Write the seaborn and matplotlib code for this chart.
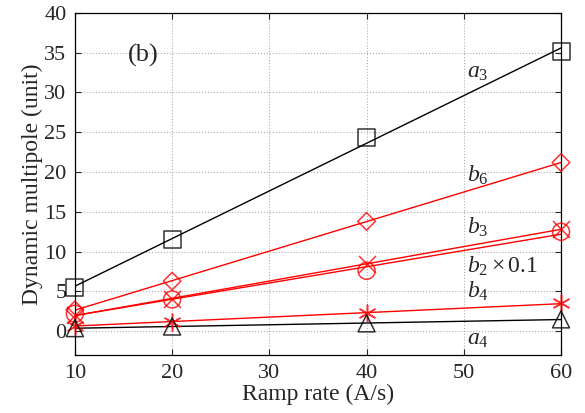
import numpy as np
import pandas as pd
import matplotlib
matplotlib.use("Agg")
import matplotlib.pyplot as plt
import seaborn as sns

# Ramp rates (A/s) and measured dynamic multipoles
ramp_rate = [10, 20, 40, 60]
a3 = [5.5, 11.5, 24.3, 35.2]
b6 = [2.7, 6.3, 13.8, 21.2]
b3 = [2.0, 4.1, 8.5, 12.8]
b2_scaled = [2.2, 4.0, 7.6, 12.5]
b4 = [0.7, 1.2, 2.3, 3.5]
a4 = [0.4, 0.6, 1.0, 1.5]

series = [
    ("a3", a3, "black", "s"),
    ("b6", b6, "red", "D"),
    ("b3", b3, "red", "x"),
    ("b2x0.1", b2_scaled, "red", "o"),
    ("b4", b4, "red", (6, 2, 0)),
    ("a4", a4, "black", "^"),
]

labels = [
    (r"$a_3$", 50.3, 32.5),
    (r"$b_6$", 50.3, 19.6),
    (r"$b_3$", 50.3, 13.0),
    (r"$b_2\times 0.1$", 50.3, 8.1),
    (r"$b_4$", 50.3, 5.0),
    (r"$a_4$", 50.3, -1.0),
]

sns.set_style("ticks")
plt.rcParams["font.family"] = ["Liberation Serif", "DejaVu Serif"]
plt.rcParams["mathtext.fontset"] = "custom"
plt.rcParams["mathtext.rm"] = "Liberation Serif"
plt.rcParams["mathtext.it"] = "Liberation Serif:italic"

fig = plt.figure(figsize=(5.85, 4.13), dpi=100)
ax = fig.add_axes([0.128, 0.140, 0.831, 0.829])

for name, vals, color, marker in series:
    df = pd.DataFrame({"rate": ramp_rate, "value": vals})
    filled = marker in ("x", (6, 2, 0))
    sns.regplot(
        data=df, x="rate", y="value", ax=ax, ci=None, truncate=True,
        marker=marker, color=color,
        scatter_kws=dict(s=150 if marker != "D" else 80,
                         facecolors=color if filled else "none",
                         edgecolors=color, linewidths=1.1, clip_on=False, zorder=3),
        line_kws=dict(linewidth=1.0, color=color),
    )

for text, x, y in labels:
    ax.text(x, y, text, fontsize=17, ha="left", va="center")
ax.text(17, 34.7, "(b)", fontsize=19, ha="center", va="center")

ax.set_xlim(10, 60)
ax.set_ylim(-3, 40)
ax.set_xticks([10, 20, 30, 40, 50, 60])
ax.set_yticks(range(0, 41, 5))
ax.grid(True, linestyle=":", color="#b0b0b0", linewidth=0.8)
ax.tick_params(direction="in", top=True, right=True, labelsize=16, length=4, pad=6)
for sp in ax.spines.values():
    sp.set_linewidth(0.9)
    sp.set_color("black")
ax.set_xlabel("Ramp rate (A/s)", fontsize=17, labelpad=1)
ax.set_ylabel("Dynamic multipole (unit)", fontsize=17, labelpad=1)

fig.savefig("out.png", dpi=100)
